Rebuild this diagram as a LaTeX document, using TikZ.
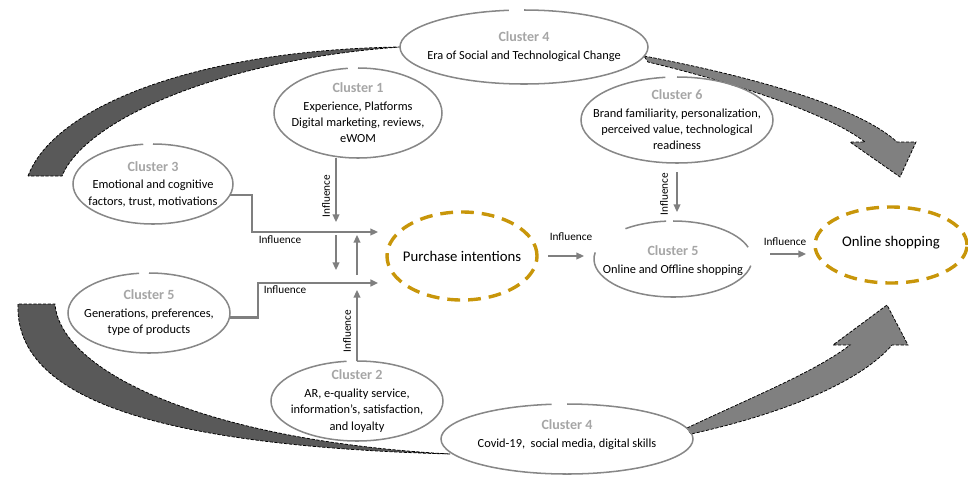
\documentclass[tikz,border=0pt]{standalone}
\usepackage{fontspec}
\setmainfont{Carlito}
\usetikzlibrary{shapes.geometric,arrows.meta}
\definecolor{linegray}{HTML}{7F7F7F}
\definecolor{ringgray}{HTML}{878787}
\definecolor{bandgray}{HTML}{595959}
\definecolor{arrowgray}{HTML}{808080}
\definecolor{gold}{RGB}{200,150,10}
\definecolor{titlegray}{HTML}{A6A6A6}
\newcommand\ctitle[1]{{\fontsize{10}{12}\selectfont\bfseries\color{titlegray}#1}\\[1.2pt]}
\newcommand\gapring[3]{\draw[ring] (#1.north) arc[start angle=90, end angle=-263, x radius=#2, y radius=#3];}
\begin{document}
\begin{tikzpicture}[x=0.25mm, y=-0.25mm, >={Triangle[length=1.9mm, width=1.7mm]},
    clus/.style={ellipse, draw=none, inner sep=0pt, outer sep=0pt},
    ctext/.style={align=center, font=\fontsize{8.8}{11.5}\selectfont, inner sep=0pt},
    ring/.style={draw=ringgray, line width=0.38mm},
    goal/.style={ellipse, draw=gold, line width=0.85mm, dash pattern=on 3.2mm off 2mm, inner sep=0pt, outer sep=0pt},
    goaltext/.style={font=\fontsize{10.5}{12}\selectfont, inner sep=0pt},
    link/.style={draw=linegray, line width=0.38mm},
    inf/.style={font=\fontsize{8}{9}\selectfont, inner sep=1pt},
    band/.style={fill=bandgray, draw=black, line width=0.55pt, dash pattern=on 0.8mm off 0.4mm},
    bigarrow/.style={fill=arrowgray, draw=black, line width=0.55pt, dash pattern=on 0.8mm off 0.4mm}]
\useasboundingbox (0,0) rectangle (968,476);

\node[clus, minimum width=62mm, minimum height=18.5mm, label={[ctext]center:{\ctitle{Cluster 4}Era of Social and Technological Change}}] (c4top) at (524,47) {};
\node[clus, minimum width=42mm, minimum height=22.5mm, label={[ctext]center:{\ctitle{Cluster 1}Experience, Platforms\\Digital marketing, reviews,\\eWOM}}] (c1) at (358,113) {};
\node[clus, minimum width=48mm, minimum height=21.5mm, label={[ctext]center:{\ctitle{Cluster 6}Brand familiarity, personalization,\\perceived value, technological\\readiness}}] (c6) at (677,120) {};
\node[clus, minimum width=40mm, minimum height=20mm, label={[ctext]center:{\ctitle{Cluster 3}Emotional and cognitive\\factors, trust, motivations}}] (c3) at (153,184) {};
\node[clus, minimum width=40.5mm, minimum height=20mm, label={[ctext]center:{\ctitle{Cluster 5}Generations, preferences,\\type of products}}] (c5left) at (149,313) {};
\node[clus, minimum width=43mm, minimum height=20mm, label={[ctext]center:{\ctitle{Cluster 2}AR, e-quality service,\\information’s, satisfaction,\\and loyalty}}] (c2) at (357,401) {};
\node[clus, minimum width=63mm, minimum height=17.5mm, label={[ctext, yshift=1mm]center:{\ctitle{Cluster 4}Covid-19,\ \ social media, digital skills}}] (c4bot) at (567,439) {};
\node[clus, minimum width=39.5mm, minimum height=19mm, label={[ctext, yshift=-0.4mm]center:{\ctitle{Cluster 5}Online and Offline shopping}}] (c5right) at (673,259) {};
\node[goal, minimum width=37.5mm, minimum height=22mm, label={[goaltext]center:Purchase intentions}] (purch) at (462,256) {};
\node[goal, minimum width=38mm, minimum height=19mm, label={[goaltext, yshift=0.5mm]center:Online shopping}] (online) at (891,245) {};

\draw[band] (28,176) .. controls (55,105) and (200,50) .. (c4top.west) .. controls (220,60) and (85,120) .. (62,176) -- cycle;
\draw[band] (18,304) .. controls (15,390) and (130,445) .. (450,454) .. controls (200,440) and (60,370) .. (55,304) -- cycle;
\draw[bigarrow] (644,56) .. controls (760,78) and (860,108) .. (897,142) -- (916,142) -- (900,177) -- (850,142) -- (865,142) .. controls (830,115) and (740,84) .. (648,62) -- cycle;
\draw[bigarrow] (687,428) .. controls (750,398) and (815,372) .. (850,345) -- (833,345) -- (887,305) -- (908,345) -- (892,345) .. controls (862,380) and (790,412) .. (691,434) -- cycle;

\gapring{c4top}{31mm}{9.25mm}
\gapring{c1}{21mm}{11.25mm}
\gapring{c6}{24mm}{10.75mm}
\gapring{c3}{20mm}{10mm}
\gapring{c5left}{20.25mm}{10mm}
\gapring{c2}{21.5mm}{10mm}
\gapring{c4bot}{31.5mm}{8.75mm}
\draw[ring] ([shift={(18:19.75mm and 9.5mm)}]c5right.center) arc[start angle=18, end angle=90, x radius=19.75mm, y radius=9.5mm];
\draw[ring] ([shift={(95:19.75mm and 9.5mm)}]c5right.center) arc[start angle=95, end angle=127, x radius=19.75mm, y radius=9.5mm];
\draw[ring] ([shift={(170:19.75mm and 9.5mm)}]c5right.center) arc[start angle=170, end angle=350, x radius=19.75mm, y radius=9.5mm];

\coordinate (hubA) at (378,232);
\coordinate (hubB) at (378,283);
\coordinate (dnA) at (336,222);
\coordinate (dnB) at (336,235);
\coordinate (dnC) at (336,270);
\coordinate (upA) at (357,275);
\coordinate (upB) at (357,235);
\coordinate (upC) at (357,290);

\draw[link,->] (c1.south -| dnA) -- (dnA);
\draw[link,->] (c3.-8) -| (252,232) -- (hubA);
\draw[link,->] (dnB) -- (dnC);
\draw[link,->] (upA) -- (upB);
\draw[link,line width=0.7mm,->] (c5left.-3) -| (258,283) -- (hubB);
\draw[link,->] (c2.north) -- (upC);
\draw[link,->,shorten <=2.75mm,shorten >=2.5mm] (purch.east) -- (purch.east -| c5right.west);
\draw[link,->,shorten <=2.25mm,shorten >=2.25mm] (c6.south) -- (c6.south |- c5right.north);
\draw[link,->,shorten <=4.5mm,shorten >=2.25mm] ([yshift=1.25mm]c5right.east) -- ([yshift=1.25mm]c5right.east -| online.west);

\node[inf, rotate=90] (inf1) at (326,196) {Influence};
\node[inf] (inf2) at (280,240) {Influence};
\node[inf] (inf3) at (285,290) {Influence};
\node[inf, rotate=90] (inf4) at (347,331) {Influence};
\node[inf] (inf5) at (571,237) {Influence};
\node[inf, rotate=90] (inf6) at (664,194) {Influence};
\node[inf] (inf7) at (785,242) {Influence};
\end{tikzpicture}
\end{document}
